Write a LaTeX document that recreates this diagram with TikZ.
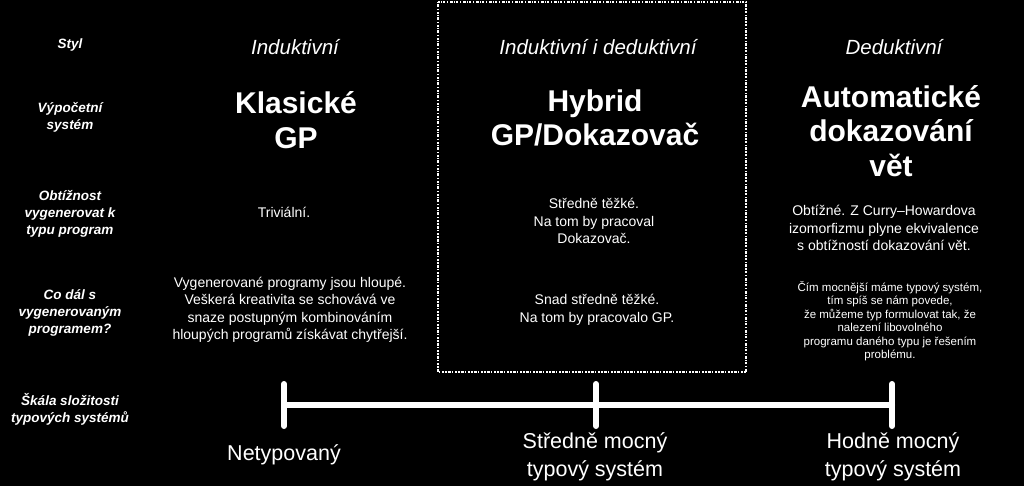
\documentclass[tikz,border=0pt]{standalone}
\usepackage{fontspec}
\setmainfont{Liberation Sans}
\begin{document}
\begin{tikzpicture}[x=1pt,y=-1pt,
  every node/.style={text=white,align=center,inner sep=0pt},
  rowlabel/.style={font=\fontsize{13.5}{17}\selectfont\bfseries\itshape},
  stylelabel/.style={font=\fontsize{20.5}{24}\selectfont\itshape},
  sysname/.style={font=\fontsize{30}{34.5}\selectfont\bfseries},
  body/.style={font=\fontsize{14}{17.5}\selectfont},
  smallbody/.style={font=\fontsize{11.5}{13.5}\selectfont},
  scalelabel/.style={font=\fontsize{21.5}{28}\selectfont},
  scaleline/.style={draw=white,line width=6pt,line cap=round},
  roughbox/.style={draw=white,line width=2pt,dash pattern=on 1.5pt off 1pt on 3pt off 1.5pt on 1pt off 2pt on 2pt off 1pt}]
\fill[black] (0,0) rectangle (1024,486);
\useasboundingbox (0,0) rectangle (1024,486);
% highlighted column
\draw[roughbox] (438,2) rectangle (746,372);
% row labels
\node[rowlabel] (r1) at (70,45) {Styl};
\node[rowlabel] (r2) at (70,117) {Výpočetní\\systém};
\node[rowlabel] (r3) at (70,214) {Obtížnost\\vygenerovat k\\typu program};
\node[rowlabel] (r4) at (70,313) {Co dál s\\vygenerovaným\\programem?};
\node[rowlabel] (r5) at (70,409) {Škála složitosti\\typových systémů};
% styles
\node[stylelabel] (s1) at (295,47) {Induktivní};
\node[stylelabel] (s2) at (598,47) {Induktivní i deduktivní};
\node[stylelabel] (s3) at (894,47) {Deduktivní};
% systems
\node[sysname] (c1) at (296,120) {Klasické\\GP};
\node[sysname] (c2) at (595,118) {Hybrid\\GP/Dokazovač};
\node[sysname] (c3) at (891,131) {Automatické\\dokazování\\vět};
% difficulty
\node[body] (d1) at (284,212) {Triviální.};
\node[body] (d2) at (594,221) {Středně těžké.\\Na tom by pracoval\\Dokazovač.};
\node[body] (d3) at (884,228) {Obtížné. Z Curry–Howardova\\izomorfizmu plyne ekvivalence\\s obtížností dokazování vět.};
% what next
\node[body] (n1) at (290,310) {Vygenerované programy jsou hloupé.\\Veškerá kreativita se schovává ve\\snaze postupným kombinováním\\hloupých programů získávat chytřejší.};
\node[body] (n2) at (597,310) {Snad středně těžké.\\Na tom by pracovalo GP.};
\node[smallbody] (n3) at (890,321) {Čím mocnější máme typový systém,\\tím spíš se nám povede,\\že můžeme typ formulovat tak, že\\nalezení libovolného\\programu daného typu je řešením\\problému.};
% scale
\coordinate (a) at (284,405);
\coordinate (b) at (596,405);
\coordinate (c) at (892,405);
\coordinate (at) at (284,384);
\coordinate (ab) at (284,426);
\coordinate (bt) at (596,384);
\coordinate (bb) at (596,426);
\coordinate (ct) at (892,384);
\coordinate (cb) at (892,426);
\draw[scaleline] (a) -- (c);
\draw[scaleline] (at) -- (ab);
\draw[scaleline] (bt) -- (bb);
\draw[scaleline] (ct) -- (cb);
\node[scalelabel] (l1) at (284,455) {Netypovaný};
\node[scalelabel] (l2) at (595,457) {Středně mocný\\typový systém};
\node[scalelabel] (l3) at (893,457) {Hodně mocný\\typový systém};
\end{tikzpicture}
\end{document}
